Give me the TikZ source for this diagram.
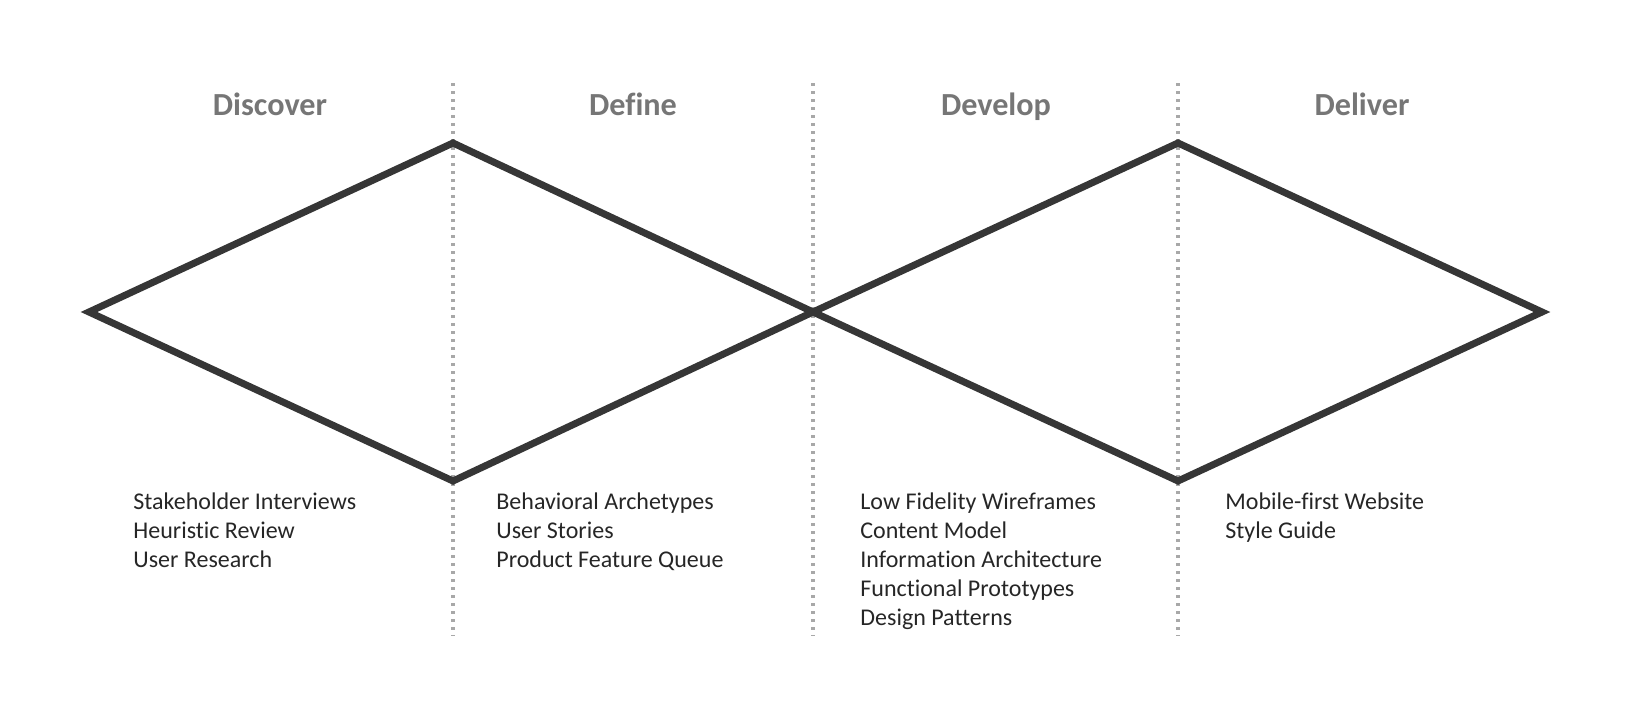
\documentclass[tikz,border=0pt]{standalone}
\usepackage{fontspec}
\setmainfont{Carlito}[Ligatures={NoCommon}]
\definecolor{diam}{HTML}{363636}
\definecolor{dotc}{HTML}{A8A8A8}
\definecolor{headc}{HTML}{767676}
\definecolor{bodyc}{HTML}{262626}
\newcommand{\itemlist}[1]{\begin{tabular}[t]{@{}l@{}}#1\end{tabular}}
\begin{document}
\begin{tikzpicture}[x=0.5pt,y=-0.5pt,
  divider/.style={dotc,line width=1.75pt,dash pattern=on 1.7pt off 2.3pt},
  diamline/.style={diam,line width=3.5pt,line join=miter},
  phase/.style={anchor=base,inner sep=0pt,text=headc,font=\fontsize{16.1}{19}\selectfont\bfseries},
  items/.style={anchor=base west,inner sep=0pt,text=bodyc,font=\fontsize{12}{14.6}\selectfont}]
\useasboundingbox (0,0) rectangle (1632,712);
% dividers
\coordinate (d1t) at (453,83); \coordinate (d1b) at (453,636);
\coordinate (d2t) at (813,83); \coordinate (d2b) at (813,636);
\coordinate (d3t) at (1178,83); \coordinate (d3b) at (1178,636);
\draw[divider] (d1t) -- (d1b);
\draw[divider] (d2t) -- (d2b);
\draw[divider] (d3t) -- (d3b);
% diamonds
\coordinate (L) at (89,312);
\coordinate (T1) at (453,143);
\coordinate (B1) at (453,481);
\coordinate (M) at (813,312);
\coordinate (T2) at (1178,143);
\coordinate (B2) at (1178,481);
\coordinate (R) at (1542,312);
\draw[diamline] (L) -- (T1) -- (M) -- (B1) -- cycle;
\draw[diamline] (M) -- (T2) -- (R) -- (B2) -- cycle;
% headings
\node[phase] (h1) at (270,115.5) {Discover};
\node[phase] (h2) at (633,115.5) {Define};
\node[phase] (h3) at (996,115.5) {Develop};
\node[phase] (h4) at (1362,115.5) {Deliver};
% lists
\node[items] (l1) at (133,509) {\itemlist{Stakeholder Interviews\\Heuristic Review\\User Research}};
\node[items] (l2) at (496,509) {\itemlist{Behavioral Archetypes\\User Stories\\Product Feature Queue}};
\node[items] (l3) at (860,509) {\itemlist{Low Fidelity Wireframes\\Content Model\\Information Architecture\\Functional Prototypes\\Design Patterns}};
\node[items] (l4) at (1225,509) {\itemlist{Mobile-first Website\\Style Guide}};
\end{tikzpicture}
\end{document}
